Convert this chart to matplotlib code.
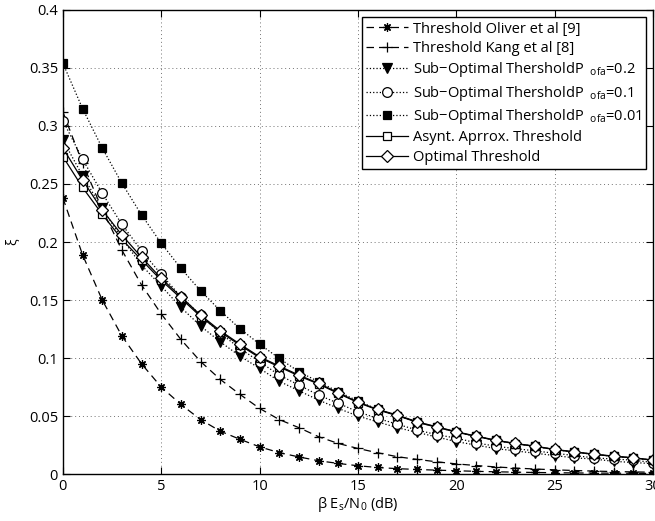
import numpy as np
import matplotlib
matplotlib.use("Agg")
import matplotlib.pyplot as plt

plt.rcParams['font.family'] = ['Open Sans', 'DejaVu Sans']
plt.rcParams['mathtext.fontset'] = 'custom'
plt.rcParams['mathtext.rm'] = 'Open Sans'

# ── data ──────────────────────────────────────────────────────────────────────
snr_db = list(range(0, 31))

oliver = [0.238, 0.189, 0.150, 0.119, 0.095, 0.075, 0.060, 0.047, 0.037, 0.030,
          0.0235, 0.0185, 0.0148, 0.0115, 0.0092, 0.0072, 0.0057, 0.0047, 0.0040,
          0.0034, 0.0029, 0.0024, 0.0020, 0.0017, 0.0014, 0.0012, 0.0010, 0.0009,
          0.0008, 0.0007, 0.0006]
kang = [0.312, 0.268, 0.228, 0.193, 0.163, 0.138, 0.116, 0.097, 0.0816, 0.0687,
        0.0566, 0.047, 0.040, 0.0322, 0.0264, 0.0221, 0.0184, 0.0150, 0.0127,
        0.0106, 0.0088, 0.0074, 0.0062, 0.0052, 0.0044, 0.0037, 0.0031, 0.0026,
        0.0022, 0.0019, 0.0016]
sub_02 = [0.288, 0.257, 0.229, 0.203, 0.180, 0.162, 0.1437, 0.1276, 0.114, 0.1017,
          0.0911, 0.080, 0.0718, 0.0638, 0.0566, 0.050, 0.045, 0.040, 0.036, 0.032,
          0.028, 0.025, 0.022, 0.020, 0.018, 0.016, 0.014, 0.013, 0.011, 0.010, 0.009]
sub_01 = [0.3046, 0.2713, 0.242, 0.2152, 0.1925, 0.172, 0.153, 0.137, 0.1215, 0.1083,
          0.0968, 0.0853, 0.0767, 0.0681, 0.061, 0.0537, 0.048, 0.043, 0.038, 0.034,
          0.031, 0.027, 0.024, 0.022, 0.020, 0.018, 0.016, 0.014, 0.013, 0.012, 0.010]
sub_001 = [0.354, 0.315, 0.281, 0.2506, 0.2233, 0.1989, 0.1773, 0.158, 0.1408, 0.1253,
           0.112, 0.0997, 0.0882, 0.0796, 0.071, 0.063, 0.0558, 0.0505, 0.0450, 0.0405,
           0.0362, 0.0326, 0.0291, 0.0262, 0.0239, 0.0211, 0.0190, 0.0170, 0.0153,
           0.0139, 0.0119]
asynt = [0.2736, 0.247, 0.2239, 0.2023, 0.1845, 0.167, 0.1515, 0.1358, 0.1225, 0.1111,
         0.1003, 0.0924, 0.0846, 0.0776, 0.0695, 0.0617, 0.0553, 0.0504, 0.0447,
         0.0404, 0.0362, 0.0325, 0.0290, 0.0262, 0.0239, 0.0211, 0.0190, 0.0170,
         0.0153, 0.0139, 0.0120]
optimal = [0.281, 0.2534, 0.2276, 0.206, 0.1868, 0.1687, 0.1529, 0.137, 0.1235, 0.112,
           0.1011, 0.0931, 0.0853, 0.0782, 0.0701, 0.0620, 0.0558, 0.0509, 0.0451,
           0.0408, 0.0365, 0.0328, 0.0293, 0.0264, 0.0241, 0.0213, 0.0192, 0.0172,
           0.0155, 0.0141, 0.0121]

sub_lbl = "Sub\u2212Optimal ThersholdP$_{\\ \\ \\mathrm{ofa}}$=%s"
series = [
    # label, values, linestyle, marker, facecolor, markersize
    ("Threshold Oliver et al [9]", oliver, (0, (6, 4)), (8, 2, 0), "k", 6),
    ("Threshold Kang et al [8]", kang, (0, (6, 4)), "+", "k", 7),
    (sub_lbl % "0.2", sub_02, ":", "v", "k", 7),
    (sub_lbl % "0.1", sub_01, ":", "o", "white", 7),
    (sub_lbl % "0.01", sub_001, ":", "s", "k", 6),
    ("Asynt. Aprrox. Threshold", asynt, "-", "s", "white", 6),
    ("Optimal Threshold", optimal, "-", "D", "white", 6),
]

# ── figure ────────────────────────────────────────────────────────────────────
fig = plt.figure(figsize=(6.55, 5.21), dpi=100)
ax = fig.add_axes([0.096, 0.090, 0.901, 0.891])

for label, vals, ls, mk, fc, ms in series:
    ax.plot(snr_db, vals, color="k", linestyle=ls, linewidth=0.9,
            marker=mk, markersize=ms, markerfacecolor=fc,
            markeredgecolor="k", markeredgewidth=0.9, label=label)

ax.set_xlim(0, 30)
ax.set_ylim(0, 0.4)
ax.set_xticks(range(0, 31, 5))
ax.set_yticks(np.arange(0, 0.41, 0.05))
ax.set_yticklabels(["0", "0.05", "0.1", "0.15", "0.2", "0.25", "0.3", "0.35", "0.4"])
ax.tick_params(direction="in", top=True, right=True, labelsize=10.5, length=5)
ax.grid(True, linestyle=(0, (1, 3)), color="0.45", linewidth=0.7)
for sp in ax.spines.values():
    sp.set_linewidth(1.0)

ax.set_xlabel("\u03b2 E$_{\\mathrm{s}}$/N$_0$ (dB)", fontsize=10.5, labelpad=1)
ax.set_ylabel("\u03be", fontsize=10, labelpad=6)

leg = ax.legend(loc="upper right", fontsize=10.5, frameon=True, fancybox=False,
                edgecolor="k", framealpha=1, handlelength=2.9,
                borderaxespad=0.5, labelspacing=0.3, handletextpad=0.3,
                borderpad=0.3)
leg.get_frame().set_linewidth(1.0)

fig.savefig("out.png", dpi=100)
